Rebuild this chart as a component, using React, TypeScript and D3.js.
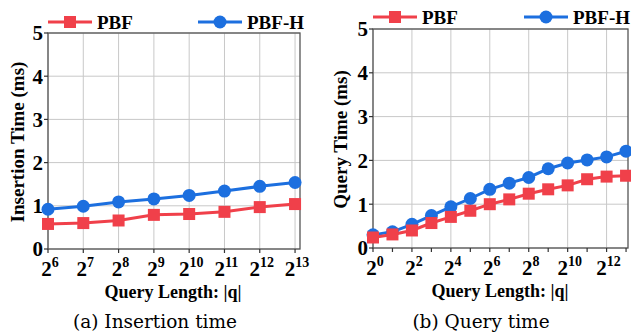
import React, { useEffect, useRef } from 'react';
import * as d3 from 'd3';

const insExp = [6, 7, 8, 9, 10, 11, 12, 13];
const insPBF = [0.58, 0.6, 0.66, 0.79, 0.81, 0.86, 0.97, 1.04];
const insPBFH = [0.92, 0.99, 1.09, 1.16, 1.24, 1.34, 1.45, 1.54];

const qryExp = [0, 1, 2, 3, 4, 5, 6, 7, 8, 9, 10, 11, 12, 13];
const qryPBF = [0.24, 0.31, 0.4, 0.57, 0.71, 0.85, 1.0, 1.11, 1.24, 1.34, 1.43, 1.57, 1.63, 1.65];
const qryPBFH = [0.3, 0.37, 0.54, 0.74, 0.94, 1.13, 1.34, 1.48, 1.61, 1.81, 1.94, 2.01, 2.08, 2.21];

const yTicks = [0, 1, 2, 3, 4, 5];
const insXTicks = [6, 7, 8, 9, 10, 11, 12, 13];
const qryXTicks = [0, 2, 4, 6, 8, 10, 12];
const qryMinorTicks = [1, 3, 5, 7, 9, 11, 13];

const RED = '#f0404a';
const BLUE = '#1c6fdf';
const FONT = '"Liberation Serif", "Times New Roman", serif';
const CAP_FONT = '"DejaVu Serif", serif';

type Panel = {
  left: number; right: number; top: number; bottom: number;
  xDomain: [number, number];
  xs: number[]; a: number[]; b: number[];
  xTicks: number[]; minor: number[];
  yTitle: string; caption: string;
  yTitleX: number; titleCx: number; capCx: number;
  legY: number; leg1: number; leg2: number;
};

const panels: Panel[] = [
  {
    left: 48, right: 300, top: 33, bottom: 249, xDomain: [6, 13.14],
    xs: insExp, a: insPBF, b: insPBFH, xTicks: insXTicks, minor: [],
    yTitle: 'Insertion Time (ms)', caption: '(a) Insertion time',
    yTitleX: 17, titleCx: 173, capCx: 155,
    legY: 22, leg1: 48, leg2: 198,
  },
  {
    left: 373, right: 628, top: 29, bottom: 248, xDomain: [0, 13.1],
    xs: qryExp, a: qryPBF, b: qryPBFH, xTicks: qryXTicks, minor: qryMinorTicks,
    yTitle: 'Query Time (ms)', caption: '(b) Query time',
    yTitleX: 340, titleCx: 500, capCx: 481,
    legY: 17, leg1: 373, leg2: 524,
  },
];

const App = () => {
  const svgRef = useRef<SVGSVGElement>(null);

  useEffect(() => {
    const svg = d3.select(svgRef.current);
    svg.selectAll('*').remove();

    panels.forEach(p => {
      const g = svg.append('g');
      const x = d3.scaleLinear().domain(p.xDomain).range([p.left, p.right]);
      const y = d3.scaleLinear().domain([0, 5]).range([p.bottom, p.top]);

      // grid
      g.selectAll('.gx').data(p.xTicks).enter().append('line')
        .attr('x1', d => x(d)).attr('x2', d => x(d))
        .attr('y1', p.top).attr('y2', p.bottom)
        .attr('stroke', '#c8c8c8').attr('stroke-width', 1);
      g.selectAll('.gy').data(yTicks).enter().append('line')
        .attr('x1', p.left).attr('x2', p.right)
        .attr('y1', d => y(d)).attr('y2', d => y(d))
        .attr('stroke', '#c8c8c8').attr('stroke-width', 1);

      // frame
      g.append('rect')
        .attr('x', p.left).attr('y', p.top)
        .attr('width', p.right - p.left).attr('height', p.bottom - p.top)
        .attr('fill', 'none').attr('stroke', '#555').attr('stroke-width', 1.3);

      // ticks
      g.selectAll('.ty').data(yTicks).enter().append('line')
        .attr('x1', p.left - 4).attr('x2', p.left)
        .attr('y1', d => y(d)).attr('y2', d => y(d))
        .attr('stroke', '#333').attr('stroke-width', 1.2);
      g.selectAll('.tx').data(p.xTicks.concat(p.minor)).enter().append('line')
        .attr('x1', d => x(d)).attr('x2', d => x(d))
        .attr('y1', p.bottom).attr('y2', p.bottom + 4)
        .attr('stroke', '#333').attr('stroke-width', 1.2);

      // y labels
      g.selectAll('.ly').data(yTicks).enter().append('text')
        .attr('x', p.left - 5).attr('y', d => y(d))
        .attr('dy', '0.35em').attr('text-anchor', 'end')
        .attr('font-family', FONT).attr('font-weight', 'bold').attr('font-size', 21)
        .text(d => d);

      // x labels 2^n
      p.xTicks.forEach(t => {
        const tx = g.append('text')
          .attr('x', x(t) + 2).attr('y', p.bottom + 27)
          .attr('text-anchor', 'middle')
          .attr('font-family', FONT).attr('font-weight', 'bold').attr('font-size', 21);
        tx.append('tspan').text('2');
        tx.append('tspan').attr('dy', -9).attr('font-size', 14).text(t);
      });

      // axis titles
      g.append('text')
        .attr('x', p.titleCx).attr('y', p.bottom + 49)
        .attr('text-anchor', 'middle')
        .attr('font-family', FONT).attr('font-weight', 'bold').attr('font-size', 18)
        .text('Query Length: |q|');
      g.append('text')
        .attr('transform', `translate(${p.yTitleX},${(p.top + p.bottom) / 2 + 1}) rotate(-90)`)
        .attr('text-anchor', 'middle').attr('dy', '0.35em')
        .attr('font-family', FONT).attr('font-weight', 'bold').attr('font-size', 19)
        .text(p.yTitle);
      g.append('text')
        .attr('x', p.capCx).attr('y', 328)
        .attr('text-anchor', 'middle')
        .attr('font-family', CAP_FONT).attr('font-size', 18.5)
        .text(p.caption);

      const line = d3.line<number>()
        .x((d, i) => x(p.xs[i]))
        .y(d => y(d));

      // PBF-H (blue circles)
      g.append('path').datum(p.b).attr('d', line)
        .attr('fill', 'none').attr('stroke', BLUE).attr('stroke-width', 3);
      g.selectAll('.cb').data(p.b).enter().append('circle')
        .attr('cx', (d, i) => x(p.xs[i])).attr('cy', d => y(d)).attr('r', 6.5)
        .attr('fill', BLUE);

      // PBF (red squares)
      g.append('path').datum(p.a).attr('d', line)
        .attr('fill', 'none').attr('stroke', RED).attr('stroke-width', 3);
      g.selectAll('.sa').data(p.a).enter().append('rect')
        .attr('x', (d, i) => x(p.xs[i]) - 6).attr('y', d => y(d) - 6)
        .attr('width', 12).attr('height', 12)
        .attr('fill', RED);

      // legend
      const leg = [
        { name: 'PBF', color: RED, sq: true, x0: p.leg1 },
        { name: 'PBF-H', color: BLUE, sq: false, x0: p.leg2 },
      ];
      leg.forEach(l => {
        g.append('line')
          .attr('x1', l.x0).attr('x2', l.x0 + 44)
          .attr('y1', p.legY).attr('y2', p.legY)
          .attr('stroke', l.color).attr('stroke-width', 3);
        if (l.sq) {
          g.append('rect').attr('x', l.x0 + 16).attr('y', p.legY - 6)
            .attr('width', 12).attr('height', 12).attr('fill', l.color);
        } else {
          g.append('circle').attr('cx', l.x0 + 22).attr('cy', p.legY).attr('r', 6.5)
            .attr('fill', l.color);
        }
        g.append('text')
          .attr('x', l.x0 + 49).attr('y', p.legY).attr('dy', '0.35em')
          .attr('font-family', FONT).attr('font-weight', 'bold').attr('font-size', 19)
          .text(l.name);
      });
    });
  }, []);

  return (
    <svg ref={svgRef} width={631} height={334}
      style={{ position: 'absolute', left: 0, top: 0, background: '#fff' }} />
  );
};

export default App;
